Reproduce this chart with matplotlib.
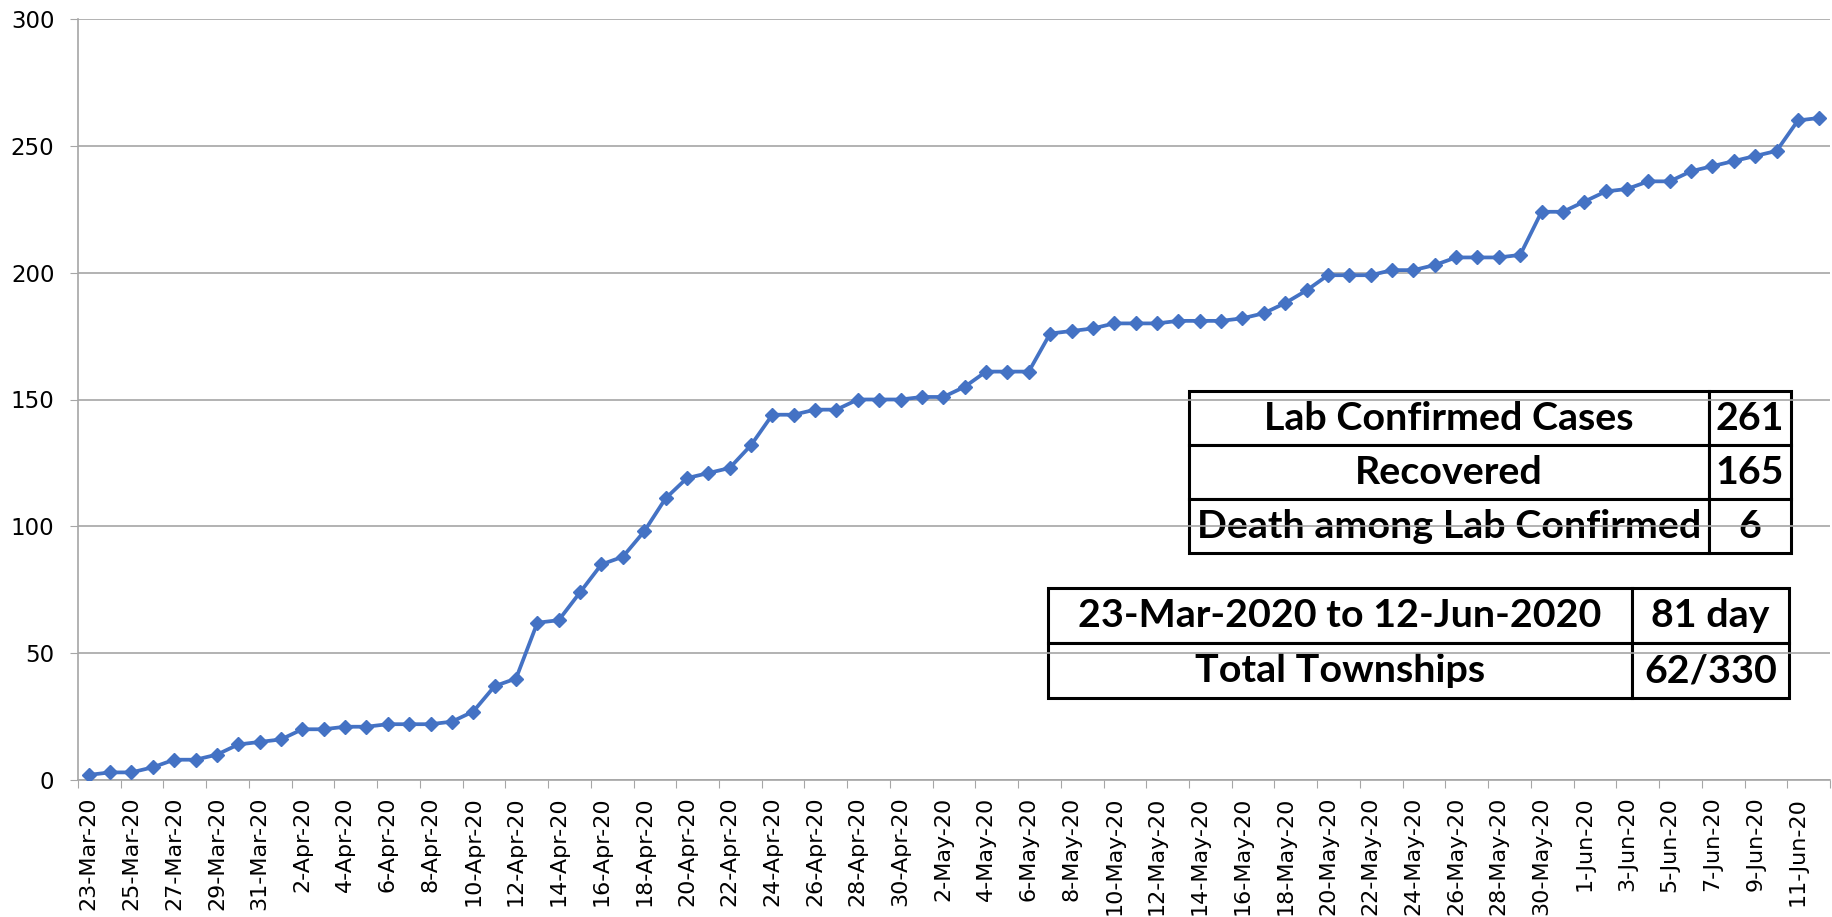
import matplotlib

matplotlib.use("Agg")
import matplotlib.pyplot as plt
import pandas as pd
from matplotlib.patches import Rectangle

# Daily cumulative lab confirmed cases, 23-Mar-2020 .. 12-Jun-2020
dates = pd.date_range("2020-03-23", "2020-06-12", freq="D")
cases = [
    2, 3, 3, 5, 8, 8, 10, 14, 15, 16,          # 23-Mar .. 1-Apr
    20, 20, 21, 21, 22, 22, 22, 23, 27, 37,    # 2-Apr .. 11-Apr
    40, 62, 63, 74, 85, 88, 98, 111, 119, 121,  # 12-Apr .. 21-Apr
    123, 132, 144, 144, 146, 146, 150, 150, 150, 151,  # 22-Apr .. 1-May
    151, 155, 161, 161, 161, 176, 177, 178, 180, 180,  # 2-May .. 11-May
    180, 181, 181, 181, 182, 184, 188, 193, 199, 199,  # 12-May .. 21-May
    199, 201, 201, 203, 206, 206, 206, 207, 224, 224,  # 22-May .. 31-May
    228, 232, 233, 236, 236, 240, 242, 244, 246, 248,  # 1-Jun .. 10-Jun
    260, 261,                                          # 11-Jun .. 12-Jun
]
yticks = [0, 50, 100, 150, 200, 250, 300]

summary_labels = ["Lab Confirmed Cases", "Recovered", "Death among Lab Confirmed"]
summary_values = ["261", "165", "6"]
period_labels = ["23-Mar-2020 to 12-Jun-2020", "Total Townships"]
period_values = ["81 day", "62/330"]

W, H = 1832, 917
fig = plt.figure(figsize=(W / 100, H / 100), dpi=100)
ax = fig.add_axes([78 / W, 1 - 780 / H, (1830 - 78) / W, 761 / H])

x = list(range(len(cases)))
ax.plot(x, cases, color="#4472C4", lw=2.7, marker="D", markersize=7.5, zorder=3)

ax.set_xlim(-0.5, len(cases) - 0.5)
ax.set_ylim(0, 300)
ax.set_yticks(yticks)
ax.tick_params(axis="y", length=6, color="#A6A6A6", labelsize=16.5, pad=11)

# ticks between categories, labels on every second category
ax.set_xticks([i - 0.5 for i in range(0, len(cases) + 1, 2)])
ax.set_xticklabels([])
ax.set_xticks(list(range(0, len(cases), 2)), minor=True)
ax.set_xticklabels([f"{d.day}-{d.strftime('%b-%y')}" for d in dates[::2]],
                   minor=True, rotation=90)
ax.tick_params(axis="x", which="major", length=6, color="#A6A6A6")
ax.tick_params(axis="x", which="minor", length=0, labelsize=16, pad=12)

ax.grid(axis="y", color="#A6A6A6", lw=1.2)
ax.set_axisbelow(True)
for s in ["top", "right"]:
    ax.spines[s].set_visible(False)
for s in ["left", "bottom"]:
    ax.spines[s].set_color("#A6A6A6")
    ax.spines[s].set_linewidth(1.2)


def px(xp, yp):
    return xp / W, 1 - yp / H


def draw_table(labels, values, left, mid, right, rows):
    texts = []
    for i, (lab, val) in enumerate(zip(labels, values)):
        top, bot = rows[i], rows[i + 1]
        for x0, x1, s in [(left, mid, lab), (mid, right, val)]:
            ax.add_patch(Rectangle(px(x0, bot), (x1 - x0) / W, (bot - top) / H,
                                   transform=fig.transFigure, facecolor="white",
                                   edgecolor="black", lw=2.2, zorder=0.2))
            cx, cy = px((x0 + x1) / 2, (top + bot) / 2)
            texts.append(ax.text(cx, cy, s, transform=fig.transFigure,
                                 ha="center", va="center", family="Lato",
                                 fontweight="bold", fontsize=24, zorder=0.3))
    return texts


t1 = draw_table(summary_labels, summary_values, 1189, 1709, 1791, [391, 445, 499, 553])
t2 = draw_table(period_labels, period_values, 1048, 1632, 1789, [588, 643, 698])

# scale the table font so that the first label has the width seen in the chart
renderer = fig.canvas.get_renderer()
w = t1[0].get_window_extent(renderer).width
size = 24 * 370 / w
for t in t1 + t2:
    t.set_fontsize(size)

fig.savefig("out.png", dpi=100, facecolor="white")
